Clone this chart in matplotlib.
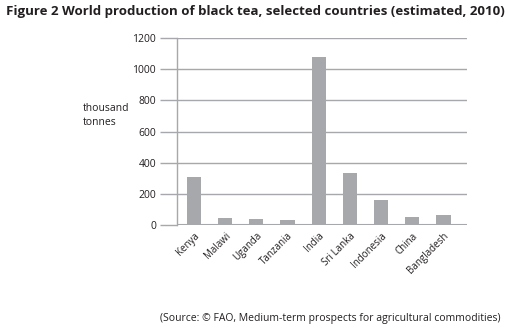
import matplotlib
matplotlib.use("Agg")
from matplotlib import pyplot as plt

countries = ["Kenya", "Malawi", "Uganda", "Tanzania", "India",
             "Sri Lanka", "Indonesia", "China", "Bangladesh"]
production = [308, 45, 40, 30, 1078, 334, 160, 52, 62]
yticks = [0, 200, 400, 600, 800, 1000, 1200]

GREY = "#a7a8ab"
TEXT = "#231f20"

plt.rcParams["font.family"] = ["Open Sans", "DejaVu Sans"]

fig = plt.figure(figsize=(5.08, 3.34), dpi=100)
ax = fig.add_axes([0.348, 0.326, 0.571, 0.56])

x = range(len(countries))
ax.bar(x, production, width=0.46, color=GREY, zorder=3)

ax.set_ylim(0, 1200)
ax.set_xlim(-0.55, 8.75)
ax.set_yticks(yticks)
ax.set_yticklabels([str(v) for v in yticks], fontsize=7.5, color=TEXT)
ax.yaxis.grid(True, color=GREY, linewidth=1.0, zorder=0)
ax.tick_params(axis="y", length=12, width=1.0, color=GREY, pad=3)
ax.set_xticks(list(x))
ax.set_xticklabels(countries, rotation=45, ha="right", rotation_mode="anchor",
                   fontsize=7, color=TEXT)
ax.tick_params(axis="x", length=0, pad=4)

for s in ["top", "right", "bottom"]:
    ax.spines[s].set_visible(False)
ax.spines["left"].set_color(GREY)
ax.spines["left"].set_linewidth(1.0)
ax.axhline(0, color=GREY, linewidth=1.5, zorder=4)

fig.text(0.012, 0.985, "Figure 2 World production of black tea, selected countries (estimated, 2010)",
         fontsize=9.5, fontweight="bold", color=TEXT, va="top", ha="left")
fig.text(0.163, 0.655, "thousand\ntonnes", fontsize=7.5, color=TEXT, va="center",
         ha="left", linespacing=1.4)
fig.text(0.985, 0.03, "(Source: \u00a9 FAO, Medium-term prospects for agricultural commodities)",
         fontsize=7.5, color=TEXT, ha="right", va="bottom")

fig.savefig("out.png", dpi=100)
